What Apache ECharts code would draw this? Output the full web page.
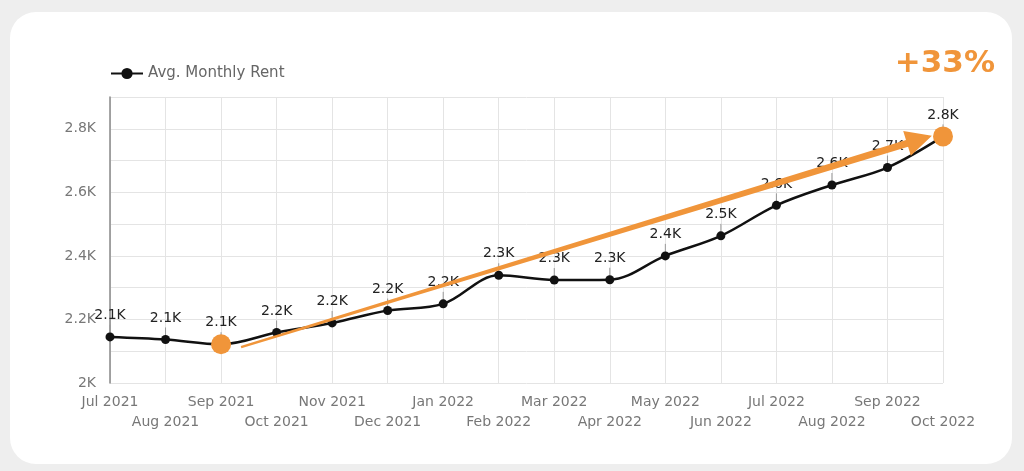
<!DOCTYPE html>
<html>
<head>
<meta charset="utf-8">
<script src="https://cdn.jsdelivr.net/npm/echarts@6/dist/echarts.min.js"></script>
<style>
html,body{margin:0;padding:0;width:1024px;height:471px;background:#eeeeee;overflow:hidden;}
#card{position:absolute;left:10px;top:12px;width:1002px;height:452px;background:#fff;border-radius:26px;}
#chart{position:absolute;left:0;top:0;width:1024px;height:471px;}
</style>
</head>
<body>
<div id="card"></div>
<div id="chart"></div>
<script>
const months = ['Jul 2021','Aug 2021','Sep 2021','Oct 2021','Nov 2021','Dec 2021','Jan 2022','Feb 2022','Mar 2022','Apr 2022','May 2022','Jun 2022','Jul 2022','Aug 2022','Sep 2022','Oct 2022'];
const rent = [2145,2137,2122,2159,2189,2228,2249,2339,2324,2325,2400,2463,2559,2623,2678,2776];
const highlightIdx = [2, 15];
const trendArrow = [[2.36, 2113],[14.8, 2778]];
const changeText = '+33%';
const yTicks = [2000,2200,2400,2600,2800];

const ORANGE = '#f0953a';
const FONT = 'DejaVu Sans';
const chart = echarts.init(document.getElementById('chart'), null, {renderer:'canvas'});

function fmtK(v){ return (v/1000).toFixed(1) + 'K'; }

chart.setOption({
  backgroundColor: 'transparent',
  textStyle: {fontFamily: FONT},
  animation: false,
  legend: {
    left: 105, top: 61, itemWidth: 32, itemHeight: 14, itemGap: 10,
    data: ['Avg. Monthly Rent'],
    textStyle: {color:'#666', fontSize: 15, fontFamily: FONT}
  },
  graphic: [{
    type:'text', right: 29, top: 48,
    style:{text: changeText, fill: ORANGE, font: 'bold 31px "DejaVu Sans"'}
  }],
  grid: {left:110, right:81, top:97, bottom:88},
  xAxis: [{
    type:'category', data: months, boundaryGap:false,
    axisLine:{show:false}, axisTick:{show:false},
    splitLine:{show:true, lineStyle:{color:'#e4e4e4'}},
    axisLabel:{color:'#777', fontSize:14, fontFamily:FONT, interval:0, margin:9, lineHeight:20,
      formatter:(v,i)=> i%2 ? '\n'+v : v}
  },{
    type:'value', min:0, max:months.length-1, show:false
  }],
  yAxis: {
    type:'value', min:2000, max:2900, interval:100,
    axisLine:{show:true, lineStyle:{color:'#888', width:1.5}}, axisTick:{show:false},
    splitLine:{show:true, lineStyle:{color:'#e4e4e4'}},
    axisLabel:{color:'#777', fontSize:14, fontFamily:FONT, margin:14,
      formatter:(v)=> yTicks.indexOf(v)>=0 ? (v===2000?'2K':(v/1000).toFixed(1)+'K') : ''}
  },
  series: [{
    name:'Avg. Monthly Rent', type:'line', data: rent, smooth:0.35,
    symbol:'circle', symbolSize:9, z:3,
    itemStyle:{color:'#111'}, lineStyle:{color:'#111', width:2.5},
    label:{show:true, position:'top', distance:10, color:'#222', fontSize:14, fontFamily:FONT,
      formatter:(p)=>fmtK(p.value)}
  },{
    type:'custom', xAxisIndex:0, z:2, silent:true,
    data: rent.map((v,i)=>[i, v]),
    renderItem:(params, api)=>{
      const p = api.coord([api.value(0), api.value(1)]);
      return {type:'line', shape:{x1:p[0], y1:p[1]-3, x2:p[0], y2:p[1]-12}, style:{stroke:'#999', lineWidth:1}};
    }
  },{
    type:'custom', xAxisIndex:1, z:8, silent:true,
    data:[[trendArrow[0][0],trendArrow[0][1],trendArrow[1][0],trendArrow[1][1]]],
    renderItem:(params, api)=>{
      const s = api.coord([api.value(0), api.value(1)]);
      const e = api.coord([api.value(2), api.value(3)]);
      const dx=e[0]-s[0], dy=e[1]-s[1], L=Math.hypot(dx,dy);
      const ux=dx/L, uy=dy/L, nx=-uy, ny=ux;
      const headL=26, headW=13, w0=1.2, w1=3.6;
      const b=[e[0]-ux*headL, e[1]-uy*headL];
      const pts=[
        [s[0]+nx*w0, s[1]+ny*w0],
        [b[0]+nx*w1, b[1]+ny*w1],
        [b[0]+nx*headW, b[1]+ny*headW],
        [e[0], e[1]],
        [b[0]-nx*headW, b[1]-ny*headW],
        [b[0]-nx*w1, b[1]-ny*w1],
        [s[0]-nx*w0, s[1]-ny*w0]
      ];
      return {type:'polygon', shape:{points:pts}, style:{fill:ORANGE}};
    }
  },{
    type:'scatter', z:9, silent:true, symbolSize:20,
    itemStyle:{color:ORANGE, opacity:1},
    data: highlightIdx.map(i=>[months[i], rent[i]])
  }]
});
</script>
</body>
</html>
